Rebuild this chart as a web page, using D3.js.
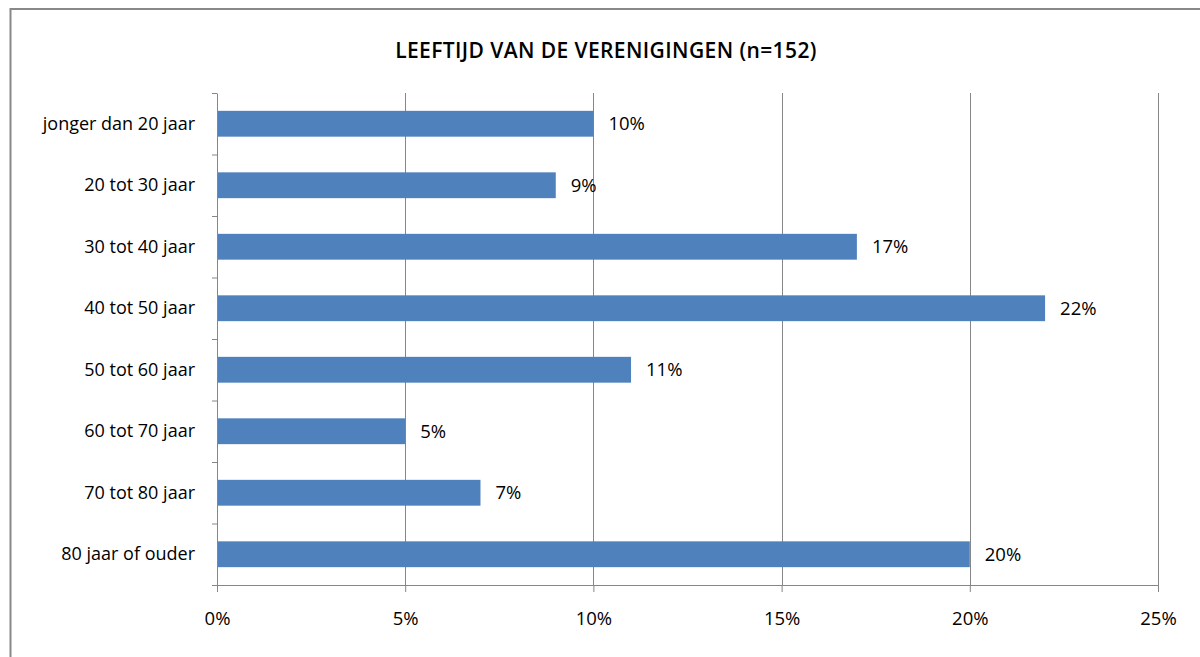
<!DOCTYPE html>
<html>
<head>
<meta charset="utf-8">
<script src="https://cdn.jsdelivr.net/npm/d3@7"></script>
<style>
  body { margin: 0; background: #fff; }
  text { font-family: "Open Sans", Arial, sans-serif; fill: #000; }
</style>
</head>
<body>
<div id="chart"></div>
<script>
// data
var categories = ["jonger dan 20 jaar", "20 tot 30 jaar", "30 tot 40 jaar", "40 tot 50 jaar",
                  "50 tot 60 jaar", "60 tot 70 jaar", "70 tot 80 jaar", "80 jaar of ouder"];
var values = [10, 9, 17, 22, 11, 5, 7, 20];
var xTicks = [0, 5, 10, 15, 20, 25];
var title = "LEEFTIJD VAN DE VERENIGINGEN (n=152)";

var svgWidth = 1200;
var svgHeight = 657;

var margin = { top: 93, right: 42, bottom: 72, left: 217 };
var width = svgWidth - margin.left - margin.right;
var height = svgHeight - margin.top - margin.bottom;

var svg = d3.select("#chart")
  .append("svg")
  .attr("width", svgWidth)
  .attr("height", svgHeight);

// outer frame of the chart
svg.append("rect")
  .attr("x", 10.5)
  .attr("y", 9)
  .attr("width", 1300)
  .attr("height", 800)
  .attr("fill", "none")
  .attr("stroke", "#888")
  .attr("stroke-width", 2);

svg.append("text")
  .attr("x", 606)
  .attr("y", 58)
  .attr("text-anchor", "middle")
  .style("font-size", "21px")
  .style("font-weight", "600")
  .style("letter-spacing", "0.4px")
  .text(title);

var chartGroup = svg.append("g")
  .attr("transform", `translate(${margin.left}, ${margin.top})`);

var xScale = d3.scaleLinear()
  .domain([0, 25])
  .range([0, width]);

var yScale = d3.scaleBand()
  .domain(categories)
  .range([0, height])
  .paddingInner(0.58)
  .paddingOuter(0.29);

// vertical gridlines
chartGroup.selectAll(".grid")
  .data(xTicks.slice(1))
  .enter()
  .append("line")
  .attr("x1", d => Math.round(xScale(d)) + 0.5)
  .attr("x2", d => Math.round(xScale(d)) + 0.5)
  .attr("y1", 0)
  .attr("y2", height)
  .attr("stroke", "#868686")
  .attr("stroke-width", 1);

// bars
chartGroup.selectAll("rect.bar")
  .data(values)
  .enter()
  .append("rect")
  .attr("class", "bar")
  .attr("x", 0)
  .attr("y", (d, i) => yScale(categories[i]))
  .attr("width", d => xScale(d))
  .attr("height", yScale.bandwidth())
  .attr("fill", "#4F81BD");

// data labels
chartGroup.selectAll("text.lbl")
  .data(values)
  .enter()
  .append("text")
  .attr("class", "lbl")
  .attr("x", d => xScale(d) + 15)
  .attr("y", (d, i) => yScale(categories[i]) + yScale.bandwidth() / 2)
  .attr("dy", "0.35em")
  .style("font-size", "18.5px")
  .text(d => d + "%");

// x axis
var bottomAxis = d3.axisBottom(xScale)
  .tickValues(xTicks)
  .tickSize(7)
  .tickPadding(20)
  .tickFormat(d => d + "%");

var xAxis = chartGroup.append("g")
  .attr("transform", `translate(0, ${height})`)
  .call(bottomAxis);

// y axis, ticks at band edges
var leftAxis = d3.axisLeft(yScale)
  .tickSize(0)
  .tickPadding(22);

var yAxis = chartGroup.append("g")
  .call(leftAxis);

yAxis.selectAll(".edge")
  .data(d3.range(categories.length + 1))
  .enter()
  .append("line")
  .attr("class", "edge")
  .attr("x1", -5)
  .attr("x2", 0)
  .attr("y1", i => i * yScale.step() + 0.5)
  .attr("y2", i => i * yScale.step() + 0.5)
  .attr("stroke", "#868686");

[xAxis, yAxis].forEach(a => {
  a.select(".domain").attr("stroke", "#868686");
  a.selectAll(".tick line").attr("stroke", "#868686");
  a.selectAll(".tick text")
    .style("font-family", "'Open Sans', Arial, sans-serif")
    .style("font-size", a === xAxis ? "18.5px" : "18px")
    .attr("fill", "#000");
});
</script>
</body>
</html>
